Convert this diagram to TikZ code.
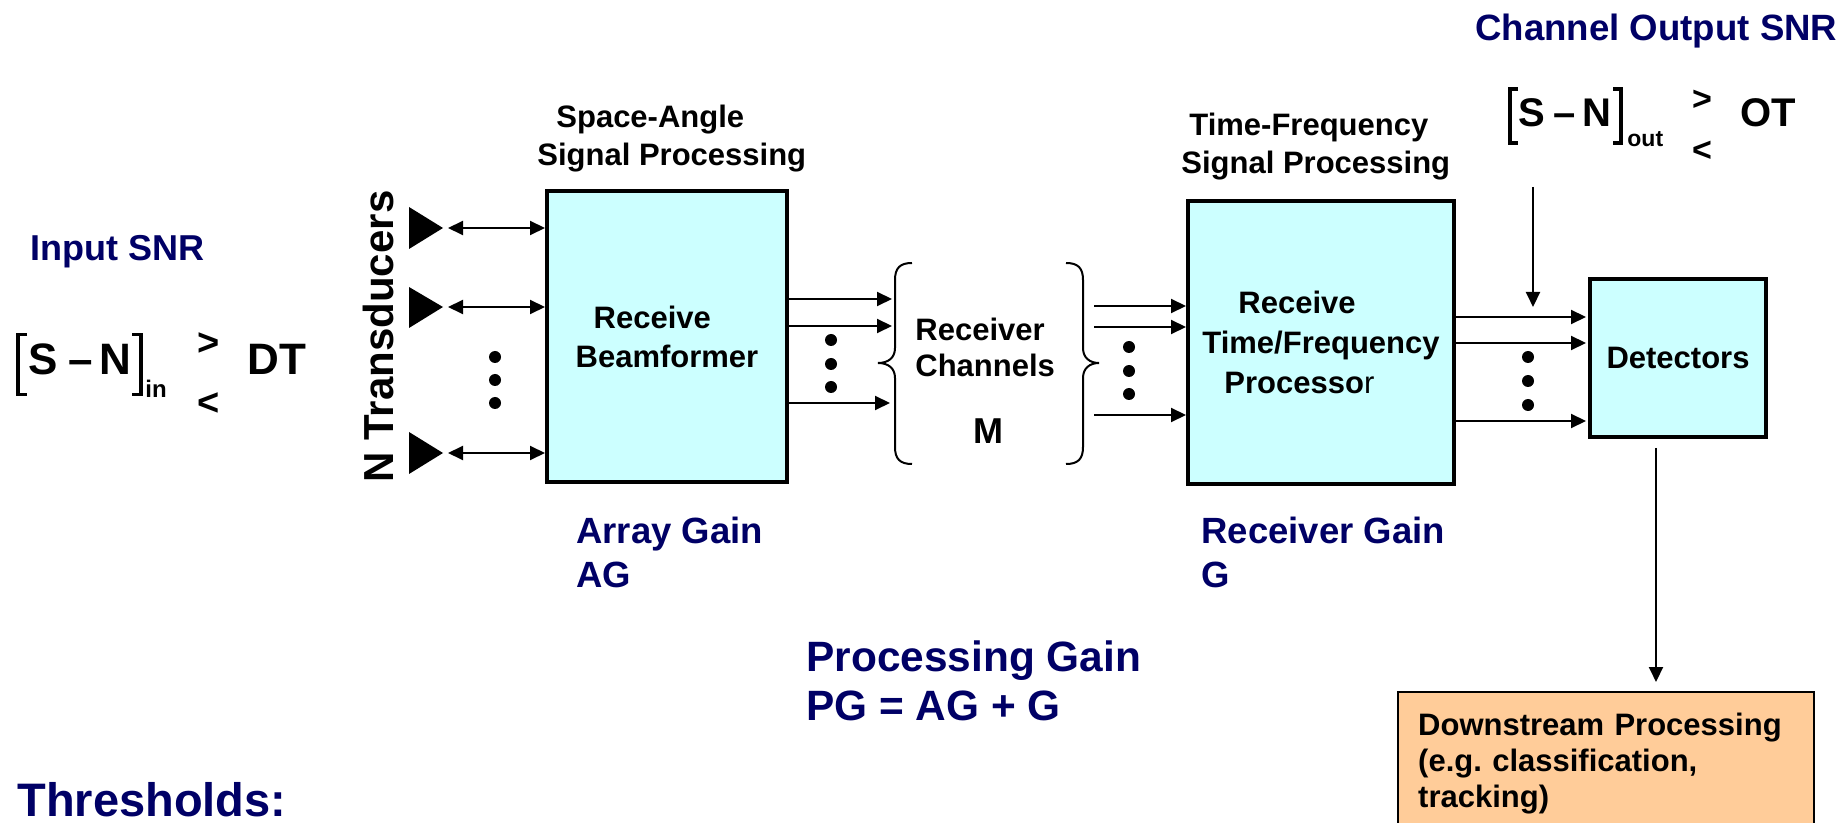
\documentclass[tikz,border=0pt]{standalone}
\usepackage{fontspec}
\setmainfont{Liberation Sans}
\usetikzlibrary{arrows.meta,calc}
\definecolor{navy}{RGB}{0,0,102}
\definecolor{boxcyan}{RGB}{204,255,255}
\definecolor{peach}{RGB}{255,204,153}
\lineskiplimit=-50pt
\begin{document}
\begin{tikzpicture}[x=0.5pt,y=-0.5pt,
  blk/.style={font=\bfseries\fontsize{15.5}{18}\selectfont, inner sep=0pt},
  nav/.style={text=navy, inner sep=0pt},
  eqt/.style={font=\bfseries\fontsize{22}{22}\selectfont, inner sep=0pt},
  bx/.style={draw=black, line width=2pt, fill=boxcyan, inner sep=0pt},
  arr/.style={line width=1pt, -{Triangle[length=7.5pt,width=7pt]}},
  darr/.style={line width=1pt, {Triangle[length=7.5pt,width=7pt]}-{Triangle[length=7.5pt,width=7pt]}},
  brk/.style={line width=1.8pt},
  brace/.style={line width=1pt}]
\fill[white] (0,0) rectangle (1842,823);
\useasboundingbox (0,0) rectangle (1842,823);

% ---------- boxes ----------
\node[bx, blk, font=\bfseries\fontsize{15.5}{19.5}\selectfont, minimum width=120pt, minimum height=145.5pt, align=left] (bf) at (667,336.5)
  {\hspace*{9pt}Receive\\Beamformer};
\node[bx, blk, font=\bfseries\fontsize{15.5}{20}\selectfont, minimum width=133pt, minimum height=141.5pt, align=left] (tf) at (1321,342.5)
  {\hspace*{18pt}Receive\\Time/Frequency\\\hspace*{11pt}Processo{\mdseries r}};
\node[bx, blk, minimum width=88pt, minimum height=79pt] (det) at (1678,358) {Detectors};
\node[draw=black, line width=1.2pt, fill=peach, blk, anchor=north west, text width=188pt,
  inner xsep=10pt, inner ysep=10.5pt, align=left] (ds) at (1397,691)
  {Downstream Processing\\(e.g.\ classification,\\tracking)};

% ---------- labels ----------
\node[blk, anchor=north west, align=left, font=\bfseries\fontsize{15.5}{19}\selectfont] (sa) at (537,105)
  {\hspace*{9.5pt}Space-Angle\\Signal Processing};
\node[blk, anchor=north west, align=left, font=\bfseries\fontsize{15.5}{19}\selectfont] (tfl) at (1181,113)
  {\hspace*{4pt}Time-Frequency\\Signal Processing};
\node[blk, anchor=north west, align=left] (rc) at (915,318) {Receiver\\Channels};
\node[blk, anchor=base, font=\bfseries\fontsize{18}{18}\selectfont] (m) at (988,444) {M};
\node[inner sep=0pt, rotate=90, anchor=base, font=\bfseries\fontsize{21}{21}\selectfont] (nt) at (393,336.5) {N Transducers};

\node[nav, anchor=north west, font=\bfseries\fontsize{18}{22}\selectfont] (insnr) at (30,235) {Input SNR};
\node[nav, anchor=north west, font=\bfseries\fontsize{18.3}{22}\selectfont] (outsnr) at (1475,14) {Channel Output SNR};
\node[nav, anchor=north west, align=left, font=\bfseries\fontsize{18.25}{22}\selectfont] (ag) at (576,517) {Array Gain\\AG};
\node[nav, anchor=north west, align=left, font=\bfseries\fontsize{18.25}{22}\selectfont] (rg) at (1201,517) {Receiver Gain\\G};
\node[nav, anchor=north west, align=left, font=\bfseries\fontsize{21.2}{24.5}\selectfont] (pg) at (806,640) {Processing Gain\\PG = AG + G};
\node[nav, anchor=north west, font=\bfseries\fontsize{23.5}{26}\selectfont] (thr) at (17,782) {Thresholds:};

% ---------- input threshold equation ----------
\draw[brk] (27,334.5) -- (18,334.5) -- (18,394.5) -- (27,394.5);
\draw[brk] (132,334.5) -- (141,334.5) -- (141,394.5) -- (132,394.5);
\node[eqt, anchor=base] (sni) at (80,375) {S\hspace{5pt}–\hspace{3.5pt}N};
\node[inner sep=0pt, anchor=base west, font=\bfseries\fontsize{12}{12}\selectfont] (sub1) at (145,398) {in};
\node[inner sep=0pt, font=\bfseries\fontsize{19}{19}\selectfont] (gt1) at (209,344) {>};
\node[inner sep=0pt, font=\bfseries\fontsize{19}{19}\selectfont] (lt1) at (209,404) {<};
\node[eqt, anchor=base west] (dt) at (247,375) {DT};

% ---------- output threshold equation ----------
\draw[brk] (1518,89) -- (1510,89) -- (1510,143) -- (1518,143);
\draw[brk] (1613,89) -- (1621,89) -- (1621,143) -- (1613,143);
\node[inner sep=0pt, anchor=base, font=\bfseries\fontsize{20}{20}\selectfont] (sno) at (1564.5,127) {S\hspace{4.5pt}–\hspace{3pt}N};
\node[inner sep=0pt, anchor=base west, font=\bfseries\fontsize{11.5}{11.5}\selectfont] (sub2) at (1627,147) {out};
\node[inner sep=0pt, font=\bfseries\fontsize{17}{17}\selectfont] (gt2) at (1702,100) {>};
\node[inner sep=0pt, font=\bfseries\fontsize{17}{17}\selectfont] (lt2) at (1702,151) {<};
\node[inner sep=0pt, anchor=base west, font=\bfseries\fontsize{20}{20}\selectfont] (ot) at (1740,127) {OT};

% ---------- transducers ----------
\coordinate (t1) at (443,228);
\coordinate (t2) at (443,307);
\coordinate (t3) at (443,453);
\fill (409,207) -- (t1) -- (409,249) -- cycle;
\fill (409,287) -- (t2) -- (409,328) -- cycle;
\fill (409,432) -- (t3) -- (409,474) -- cycle;
\draw[darr, shorten <=2.5pt] (t1) -- (bf.west |- t1);
\draw[darr, shorten <=2.5pt] (t2) -- (bf.west |- t2);
\draw[darr, shorten <=2.5pt] (t3) -- (bf.west |- t3);
\foreach \yy in {357,380,403} \fill (495,\yy) circle[radius=6];

% ---------- beamformer -> channels ----------
\coordinate (b1) at (892,299);
\coordinate (b2) at (892,326);
\coordinate (b3) at (890,403);
\draw[arr] (bf.east |- b1) -- (b1);
\draw[arr] (bf.east |- b2) -- (b2);
\draw[arr] (bf.east |- b3) -- (b3);
\foreach \yy in {340,364,387} \fill (831,\yy) circle[radius=6];

% braces
\draw[brace] (912,263) .. controls (900,263) and (895,268) .. (895,280) -- (895,348)
  .. controls (895,358) and (888,363) .. (878,363)
  .. controls (888,363) and (895,368) .. (895,378) -- (895,447)
  .. controls (895,459) and (900,464) .. (912,464);
\draw[brace] (1066,263) .. controls (1078,263) and (1083,268) .. (1083,280) -- (1083,348)
  .. controls (1083,358) and (1090,363) .. (1099,363)
  .. controls (1090,363) and (1083,368) .. (1083,378) -- (1083,447)
  .. controls (1083,459) and (1078,464) .. (1066,464);

% ---------- channels -> TF ----------
\coordinate (c1) at (1094,306);
\coordinate (c2) at (1094,327);
\coordinate (c3) at (1094,415);
\draw[arr] (c1) -- (tf.west |- c1);
\draw[arr] (c2) -- (tf.west |- c2);
\draw[arr] (c3) -- (tf.west |- c3);
\foreach \yy in {347,371,394} \fill (1129,\yy) circle[radius=6];

% ---------- TF -> detectors ----------
\coordinate (d1) at (1500,317);
\coordinate (d2) at (1500,343);
\coordinate (d3) at (1500,421);
\draw[arr, shorten >=1pt] (tf.east |- d1) -- (det.west |- d1);
\draw[arr, shorten >=1pt] (tf.east |- d2) -- (det.west |- d2);
\draw[arr, shorten >=1pt] (tf.east |- d3) -- (det.west |- d3);
\foreach \yy in {357,381,405} \fill (1528,\yy) circle[radius=6];

% ---------- OT arrow and downstream arrow ----------
\coordinate (ot0) at (1533,187);
\coordinate (ot1) at (1533,307);
\draw[arr] (ot0) -- (ot1);
\coordinate (dsx) at (1656,0);
\draw[arr, shorten <=4.5pt, shorten >=4.5pt] (det.south -| dsx) -- (ds.north -| dsx);
\end{tikzpicture}
\end{document}
